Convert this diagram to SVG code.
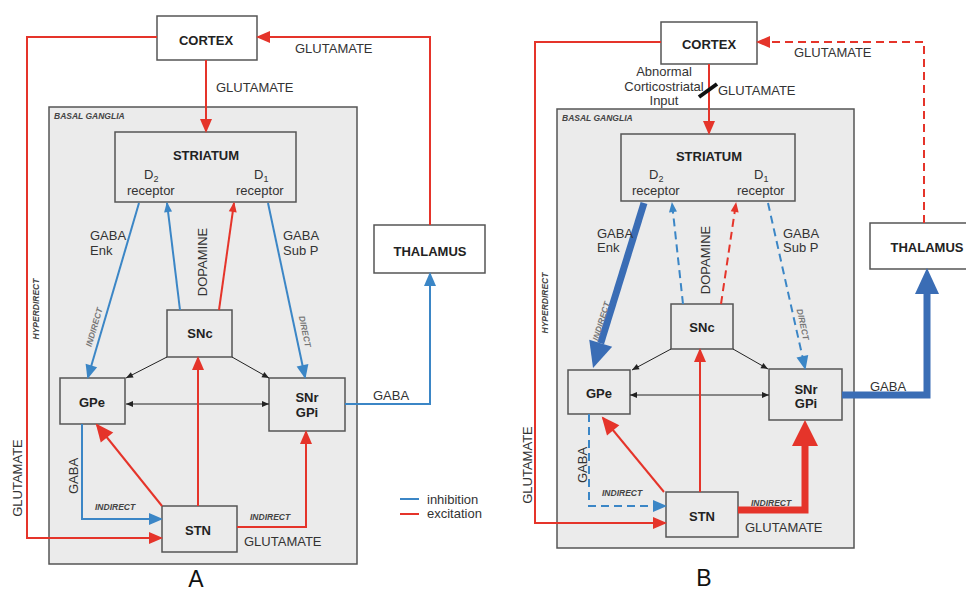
<svg xmlns="http://www.w3.org/2000/svg" width="966" height="592" viewBox="0 0 966 592">
<style>
text{font-family:"Liberation Sans",Arial,sans-serif;fill:#333;font-size:13px}
.b{font-weight:bold;fill:#222}
.mid{text-anchor:middle}
.it{font-style:italic;font-weight:bold;font-size:8.5px;fill:#444}
.itl{font-style:italic;font-weight:bold;font-size:8.5px;fill:#777}
.panel{font-size:23px;fill:#111}
.bg{fill:#ebebeb;stroke:#555;stroke-width:1.5}
.nd{fill:#ebebeb;stroke:#555;stroke-width:1.5}
.wn{fill:#fff;stroke:#555;stroke-width:1.5}
.r{fill:none;stroke:#e5342a;stroke-width:2}
.bl{fill:none;stroke:#3b86c6;stroke-width:2}
.k{fill:none;stroke:#222;stroke-width:1}
.d{stroke-dasharray:8,5}
.big{fill:none;stroke:#3a6db5;stroke-width:7}
.bigr{fill:none;stroke:#e5342a;stroke-width:7}
</style>
<defs>
<marker id="aR" markerUnits="userSpaceOnUse" markerWidth="14" markerHeight="12" refX="12" refY="6" orient="auto" overflow="visible"><path d="M0,0L14,6L0,12z" fill="#e5342a"/></marker>
<marker id="aB" markerUnits="userSpaceOnUse" markerWidth="14" markerHeight="12" refX="12" refY="6" orient="auto" overflow="visible"><path d="M0,0L14,6L0,12z" fill="#3b86c6"/></marker>
<marker id="aRs" markerUnits="userSpaceOnUse" markerWidth="10" markerHeight="8" refX="9" refY="4" orient="auto" overflow="visible"><path d="M0,0L10,4L0,8z" fill="#e5342a"/></marker>
<marker id="aBs" markerUnits="userSpaceOnUse" markerWidth="10" markerHeight="8" refX="9" refY="4" orient="auto" overflow="visible"><path d="M0,0L10,4L0,8z" fill="#3b86c6"/></marker>
<marker id="aRm" markerUnits="userSpaceOnUse" markerWidth="18" markerHeight="16" refX="16" refY="8" orient="auto" overflow="visible"><path d="M0,0L18,8L0,16z" fill="#e5342a"/></marker>
<marker id="aK" markerUnits="userSpaceOnUse" markerWidth="7" markerHeight="6" refX="7" refY="3" orient="auto-start-reverse" overflow="visible"><path d="M0,0L7,3L0,6z" fill="#222"/></marker>
<marker id="bigB" markerUnits="userSpaceOnUse" markerWidth="26" markerHeight="24" refX="0" refY="12" orient="auto" overflow="visible"><path d="M0,0L26,12L0,24z" fill="#3a6db5"/></marker>
<marker id="bigR" markerUnits="userSpaceOnUse" markerWidth="26" markerHeight="26" refX="0" refY="13" orient="auto" overflow="visible"><path d="M0,0L26,13L0,26z" fill="#e5342a"/></marker>
</defs>

<!-- Panel A -->
<g id="A-basal-ganglia"><rect class="bg" x="49" y="107" width="308" height="457"/><text class="it" x="54" y="119">BASAL GANGLIA</text></g>
<g id="A-cortex"><rect class="wn" x="157" y="16" width="100" height="44"/><text class="b mid" x="206" y="45">CORTEX</text></g>
<g id="A-thalamus"><rect class="wn" x="374" y="225" width="111" height="48"/><text class="b mid" x="430" y="256">THALAMUS</text></g>
<g id="A-striatum"><rect class="nd" x="115" y="132" width="181" height="70"/><text class="b mid" x="206" y="160">STRIATUM</text>
<text x="144" y="179">D<tspan style="font-size:9px" dy="3">2</tspan></text><text x="127" y="195">receptor</text>
<text x="254" y="179">D<tspan style="font-size:9px" dy="3">1</tspan></text><text x="236" y="195">receptor</text></g>
<g id="A-snc"><rect class="nd" x="167" y="310" width="65" height="47"/><text class="b mid" x="200" y="338">SNc</text></g>
<g id="A-gpe"><rect class="nd" x="60" y="378" width="65" height="46"/><text class="b mid" x="92" y="407">GPe</text></g>
<g id="A-snr"><rect class="nd" x="269" y="378" width="76" height="53"/><text class="b mid" x="307" y="402">SNr</text><text class="b mid" x="307" y="417">GPi</text></g>
<g id="A-stn"><rect class="nd" x="162" y="506" width="75" height="46"/><text class="b mid" x="198" y="535">STN</text></g>

<g id="A-connectors">
<line class="r" x1="206" y1="60" x2="206" y2="131" marker-end="url(#aR)"/>
<polyline class="r" points="157,37 27,37 27,538 161,538" marker-end="url(#aR)"/>
<polyline class="r" points="430,225 430,37 258,37" marker-end="url(#aR)"/>
<line class="bl" x1="139" y1="203" x2="88" y2="377" marker-end="url(#aB)"/>
<line class="bl" x1="180" y1="310" x2="167" y2="203" marker-end="url(#aBs)"/>
<line class="r" x1="219" y1="310" x2="234" y2="203" marker-end="url(#aRs)"/>
<line class="bl" x1="268" y1="203" x2="305" y2="377" marker-end="url(#aB)"/>
<line class="k" x1="167" y1="357" x2="126" y2="378" marker-end="url(#aK)"/>
<line class="k" x1="232" y1="357" x2="269" y2="378" marker-end="url(#aK)"/>
<line class="k" x1="126" y1="404" x2="269" y2="404" marker-start="url(#aK)" marker-end="url(#aK)"/>
<line class="r" x1="198" y1="506" x2="198" y2="358" marker-end="url(#aR)"/>
<line class="r" x1="162" y1="506" x2="97" y2="425" stroke-width="2.5" marker-end="url(#aRm)"/>
<polyline class="bl" points="82,424 82,519 161,519" marker-end="url(#aB)"/>
<polyline class="r" points="237,527 306,527 306,432" marker-end="url(#aR)"/>
<polyline class="bl" points="345,404 430,404 430,274" marker-end="url(#aB)"/>
</g>
<g id="A-labels">
<text x="295" y="53">GLUTAMATE</text>
<text x="216" y="92">GLUTAMATE</text>
<text x="90" y="240">GABA</text><text x="90" y="255">Enk</text>
<text x="283" y="240">GABA</text><text x="283" y="255">Sub P</text>
<text class="mid" transform="translate(207,262) rotate(-90)">DOPAMINE</text>
<text class="itl mid" transform="translate(97,328) rotate(-73.7)">INDIRECT</text>
<text class="itl mid" transform="translate(302,332) rotate(78)">DIRECT</text>
<text class="it mid" transform="translate(39,309) rotate(-90)">HYPERDIRECT</text>
<text class="mid" transform="translate(22,478) rotate(-90)">GLUTAMATE</text>
<text class="mid" transform="translate(78,476) rotate(-90)">GABA</text>
<text class="it" x="95" y="510">INDIRECT</text>
<text class="it" x="250" y="520">INDIRECT</text>
<text x="244" y="546">GLUTAMATE</text>
<text x="373" y="400">GABA</text>
<text class="panel mid" x="196" y="587">A</text>
</g>
<g id="legend">
<line class="bl" x1="400" y1="499" x2="419" y2="499"/><text x="427" y="504">inhibition</text>
<line class="r" x1="400" y1="514" x2="419" y2="514"/><text x="427" y="518">excitation</text>
</g>

<!-- Panel B -->
<g id="B-basal-ganglia"><rect class="bg" x="557" y="109" width="297" height="439"/><text class="it" x="562" y="121">BASAL GANGLIA</text></g>
<g id="B-cortex"><rect class="wn" x="661" y="22" width="96" height="42"/><text class="b mid" x="709" y="49">CORTEX</text></g>
<g id="B-thalamus"><rect class="wn" x="870" y="223" width="98" height="46"/><text class="b mid" x="927" y="252">THALAMUS</text></g>
<g id="B-striatum"><rect class="nd" x="621" y="134" width="174" height="67"/><text class="b mid" x="709" y="161">STRIATUM</text>
<text x="649" y="179">D<tspan style="font-size:9px" dy="3">2</tspan></text><text x="632" y="195">receptor</text>
<text x="754" y="179">D<tspan style="font-size:9px" dy="3">1</tspan></text><text x="737" y="195">receptor</text></g>
<g id="B-snc"><rect class="nd" x="671" y="304" width="62" height="45"/><text class="b mid" x="702" y="332">SNc</text></g>
<g id="B-gpe"><rect class="nd" x="568" y="370" width="62" height="44"/><text class="b mid" x="599" y="398">GPe</text></g>
<g id="B-snr"><rect class="nd" x="769" y="369" width="73" height="51"/><text class="b mid" x="806" y="394">SNr</text><text class="b mid" x="806" y="408">GPi</text></g>
<g id="B-stn"><rect class="nd" x="666" y="492" width="72" height="45"/><text class="b mid" x="702" y="521">STN</text></g>

<g id="B-connectors">
<line class="r" x1="709" y1="64" x2="709" y2="133" marker-end="url(#aR)"/>
<polyline class="r" points="661,42 535,42 535,523 665,523" marker-end="url(#aR)"/>
<polyline class="r d" points="924,223 924,42 758,42" marker-end="url(#aR)"/>
<line x1="699" y1="97" x2="717" y2="84" stroke="#111" stroke-width="4"/>
<line class="big" x1="644" y1="203" x2="600.7" y2="343.2" marker-end="url(#bigB)"/>
<line class="bl d" x1="683" y1="304" x2="672" y2="203" marker-end="url(#aBs)"/>
<line class="r d" x1="721" y1="304" x2="736" y2="203" marker-end="url(#aRs)"/>
<line class="bl d" x1="768" y1="203" x2="805" y2="368" marker-end="url(#aB)"/>
<line class="k" x1="671" y1="349" x2="632" y2="370" marker-end="url(#aK)"/>
<line class="k" x1="733" y1="349" x2="768" y2="369" marker-end="url(#aK)"/>
<line class="k" x1="630" y1="395" x2="769" y2="395" marker-start="url(#aK)" marker-end="url(#aK)"/>
<line class="r" x1="700" y1="492" x2="700" y2="350" marker-end="url(#aR)"/>
<line class="r" x1="664" y1="492" x2="603" y2="418" stroke-width="3.5" marker-end="url(#aRm)"/>
<polyline class="bl d" points="589,414 589,506 665,506" marker-end="url(#aB)"/>
<polyline class="bigr" points="738,510 805,510 805,446" marker-end="url(#bigR)"/>
<polyline class="big" points="842,395 927,395 927,294" marker-end="url(#bigB)"/>
</g>
<g id="B-labels">
<text x="794" y="57">GLUTAMATE</text>
<text class="mid" x="664" y="76">Abnormal</text>
<text class="mid" x="664" y="91">Corticostriatal</text>
<text class="mid" x="664" y="105">Input</text>
<text x="718" y="95">GLUTAMATE</text>
<text x="597" y="238">GABA</text><text x="597" y="252">Enk</text>
<text x="783" y="238">GABA</text><text x="783" y="252">Sub P</text>
<text class="mid" transform="translate(710,260) rotate(-90)">DOPAMINE</text>
<text class="itl mid" transform="translate(604,322) rotate(-72.8)">INDIRECT</text>
<text class="itl mid" transform="translate(800,325) rotate(77.4)">DIRECT</text>
<text class="it mid" transform="translate(548,303) rotate(-90)">HYPERDIRECT</text>
<text class="mid" transform="translate(532,465) rotate(-90)">GLUTAMATE</text>
<text class="mid" transform="translate(587,465) rotate(-90)">GABA</text>
<text class="it" x="602" y="496">INDIRECT</text>
<text class="it" x="751" y="506">INDIRECT</text>
<text x="745" y="532">GLUTAMATE</text>
<text x="870" y="391">GABA</text>
<text class="panel mid" x="704" y="586">B</text>
</g>
</svg>
